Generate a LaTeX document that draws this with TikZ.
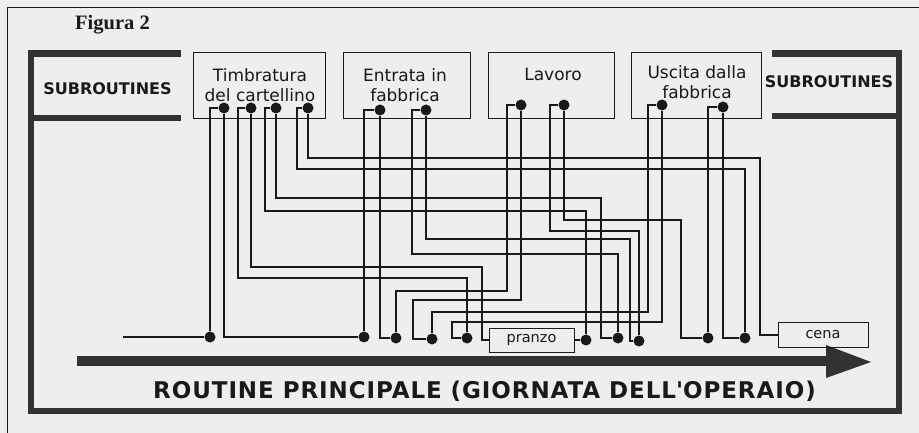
\documentclass[tikz,border=0pt]{standalone}
\usepackage{fontspec}
\newfontfamily\genevaf{DejaVu Sans}
\newfontfamily\timesf{Liberation Serif}
\definecolor{paper}{RGB}{238,238,238}
\definecolor{ink}{RGB}{25,25,25}
\definecolor{barc}{RGB}{50,50,50}
\begin{document}
\begin{tikzpicture}[x=1pt,y=-1pt,
  wire/.style={draw=ink, line width=1.4pt},
  pin/.style={circle, fill=ink, inner sep=0pt, minimum size=11pt},
  subbox/.style={draw=ink, line width=1pt, rectangle, inner sep=0pt, minimum height=66pt},
  boxtxt/.style={font=\genevaf\fontsize{17}{20}\selectfont, align=center, text=ink, inner sep=0pt},
  mealbox/.style={draw=ink, line width=1pt, rectangle, inner sep=0pt, font=\genevaf\fontsize{14.5}{16}\selectfont, text=ink},
  thickbar/.style={draw=barc, line width=6.5pt, line join=miter},
  subtxt/.style={font=\genevaf\bfseries\fontsize{16}{18}\selectfont, text=ink, inner sep=0pt},
]
\useasboundingbox (0,0) rectangle (919,433);
\fill[paper] (0,0) rectangle (919,433);
% thin outer page frame
\draw[ink, line width=0.8pt] (919,7) -- (7,7) -- (7,433);
% heavy frame
\draw[thickbar] (181,53.5) -- (31,53.5) -- (31,411) -- (899,411) -- (899,53.5) -- (772,53.5);
\draw[thickbar] (31,118) -- (181,118);
\draw[thickbar] (772,116) -- (899,116);
% main arrow
\fill[barc] (77,356) rectangle (828,366);
\fill[barc] (826,345) -- (871,362) -- (826,378) -- cycle;
% texts
\node[anchor=base west, font=\timesf\bfseries\fontsize{20.5}{22}\selectfont, text=ink, inner sep=0pt] (fig) at (75,30) {Figura 2};
\node[subtxt] (subL) at (107.5,89) {SUBROUTINES};
\node[subtxt] (subR) at (829,82) {SUBROUTINES};
\node[anchor=base west, font=\genevaf\bfseries\fontsize{23}{26}\selectfont\addfontfeatures{LetterSpace=4}, text=ink, inner sep=0pt] (title) at (153,398) {ROUTINE PRINCIPALE (GIORNATA DELL\textquotesingle OPERAIO)};
% subroutine boxes
\node[subbox, minimum width=132pt] (box1) at (259,86) {};
\node[subbox, minimum width=127pt] (box2) at (406.5,86) {};
\node[subbox, minimum width=126pt] (box3) at (551,86) {};
\node[subbox, minimum width=130pt] (box4) at (696,86) {};
\node[boxtxt] (lab1) at (260,85) {Timbratura\\del cartellino};
\node[boxtxt] (lab2) at (405,85) {Entrata in\\fabbrica};
\node[boxtxt] (lab3) at (553,74) {Lavoro};
\node[boxtxt] (lab4) at (697,82.5) {Uscita dalla\\fabbrica};
% meal boxes
\node[mealbox, minimum width=85pt, minimum height=24pt] (pranzo) at (531.5,340) {pranzo};
\node[mealbox, minimum width=90pt, minimum height=25pt] (cena) at (823,335) {cena};
% pins on subroutine boxes
\node[pin] (t1a) at (224,108) {};
\node[pin] (t1b) at (251,108) {};
\node[pin] (t1c) at (276,108) {};
\node[pin] (t1d) at (308,108) {};
\node[pin] (t2a) at (380,110) {};
\node[pin] (t2b) at (426,110) {};
\node[pin] (t3a) at (521,105) {};
\node[pin] (t3b) at (564,105) {};
\node[pin] (t4a) at (662,105) {};
\node[pin] (t4b) at (723,107) {};
% pins on main routine
\node[pin] (b1) at (210,337) {};
\node[pin] (b2) at (364,337) {};
\node[pin] (b3) at (396,338) {};
\node[pin] (b4) at (432,339) {};
\node[pin] (b5) at (467,338) {};
\node[pin] (b6) at (586,340) {};
\node[pin] (b7) at (618,338) {};
\node[pin] (b8) at (639,341) {};
\node[pin] (b9) at (708,338) {};
\node[pin] (b10) at (745,338) {};
\coordinate (start) at (123,337);
% wires
\draw[wire] (start) -- (b1);
\draw[wire] (b1) |- (t1a);
\draw[wire] (t1a) |- (b2);
\draw[wire] (b2) |- (t2a);
\draw[wire] (t2a) |- (b3);
\draw[wire] (b3) |- (507,291) |- (t3a);
\draw[wire] (t3a) |- (413,300) |- (b4);
\draw[wire] (b4) |- (648,312) |- (t4a);
\draw[wire] (t4a) |- (452,322) |- (b5);
\draw[wire] (b5) |- (238,278) |- (t1b);
\draw[wire] (t1b) |- (482,267) |- (pranzo);
\draw[wire] (pranzo) -- (b6);
\draw[wire] (b6) |- (265,211) |- (t1c);
\draw[wire] (t1c) |- (601,198) |- (b7);
\draw[wire] (b7) |- (412,254) |- (t2b);
\draw[wire] (t2b) |- (630,239) |- (b8);
\draw[wire] (b8) |- (550,231) |- (t3b);
\draw[wire] (t3b) |- (681,220) |- (b9);
\draw[wire] (b9) |- (t4b);
\draw[wire] (t4b) |- (b10);
\draw[wire] (b10) |- (297,169) |- (t1d);
\draw[wire] (t1d) |- (760,158) |- (cena);
\end{tikzpicture}
\end{document}
